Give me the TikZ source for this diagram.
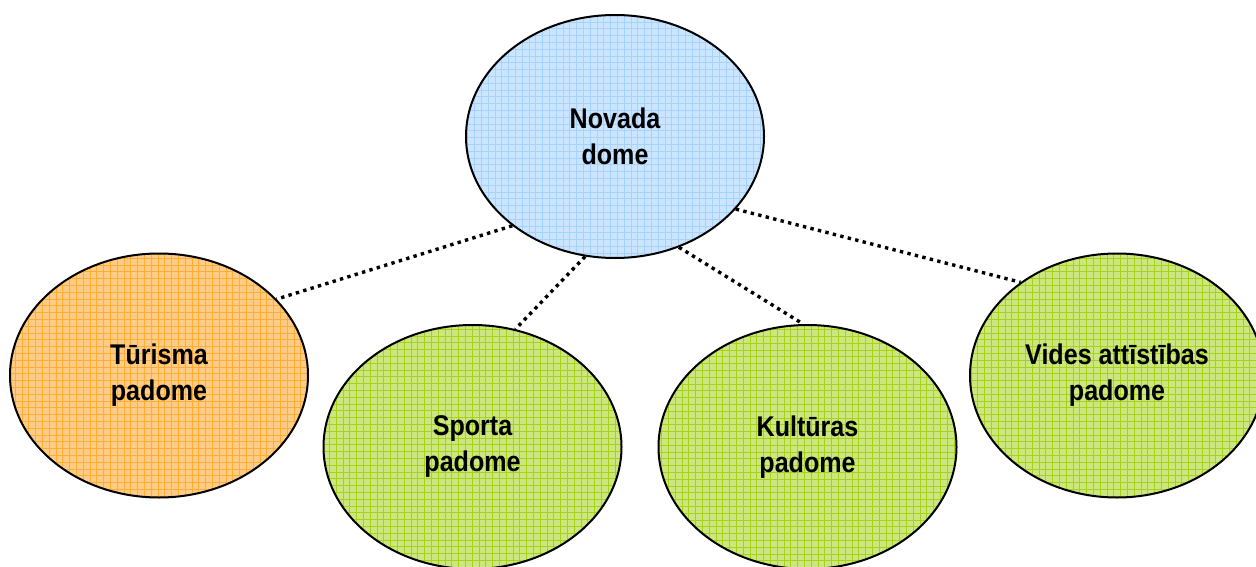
\documentclass[tikz,border=0pt]{standalone}
\usepackage{fontspec}
\setmainfont{Liberation Sans}
\newfontfamily\narrowbold{Liberation Sans Bold}[FakeStretch=0.88]
\usetikzlibrary{shapes.geometric}
\definecolor{bluefill}{HTML}{CCE5FF}
\definecolor{bluegrid}{HTML}{A6D2FF}
\definecolor{orangefill}{HTML}{FFCC88}
\definecolor{orangegrid}{HTML}{FFAD33}
\definecolor{greenfill}{HTML}{CCE680}
\definecolor{greengrid}{HTML}{A8D21A}
\begin{document}
\begin{tikzpicture}[x=1pt,y=-1pt,
  council/.style={ellipse, draw=black, line width=2pt, inner sep=0pt, align=center,
    font=\narrowbold\fontsize{28.5}{36}\selectfont,
    minimum width=298pt, minimum height=244pt},
  gridfill/.style 2 args={fill=#1, path picture={\draw[#2, line width=0.6pt, step=6.8pt]
      (path picture bounding box.south west) grid (path picture bounding box.north east);}},
  link/.style={line width=3.4pt, dash pattern=on 3.4pt off 4.3pt}
]
\useasboundingbox (0,0) rectangle (1256,567);

\node[council, gridfill={bluefill}{bluegrid}, minimum height=243pt] (dome) at (615,136.5) {Novada\\dome};
\node[council, gridfill={orangefill}{orangegrid}] (tur) at (159,375.5) {Tūrisma\\padome};
\node[council, gridfill={greenfill}{greengrid}] (sport) at (472.5,447) {Sporta\\padome};
\node[council, gridfill={greenfill}{greengrid}] (kult) at (807.5,447) {Kultūras\\padome};
\node[council, gridfill={greenfill}{greengrid}, minimum width=294pt] (vides) at (1117,375.5) {Vides attīstības\\padome};

\draw[link] (dome.221.3) -- (tur.33);
\draw[link] (dome.256) -- (sport.70.7);
\draw[link] (dome.300) -- (kult.92.5);
\draw[link] (dome.329.4) -- (vides.136.3);
\end{tikzpicture}
\end{document}
